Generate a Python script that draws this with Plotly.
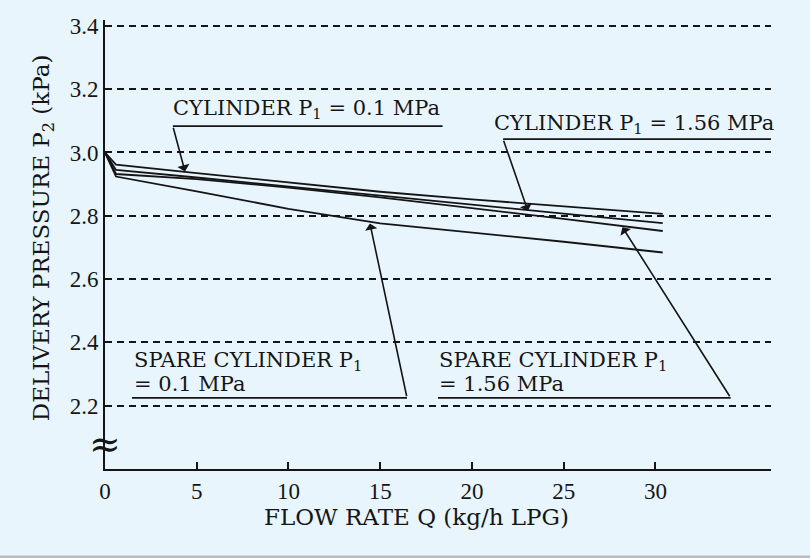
import plotly.graph_objects as go

# flow rate Q (kg/h LPG) and delivery pressure P2 (kPa)
flow_q = [0, 0.6, 5, 10, 15, 20, 25, 30.4]
cyl_01 = [3.0, 2.962, 2.935, 2.905, 2.876, 2.852, 2.829, 2.806]
cyl_156 = [3.0, 2.945, 2.921, 2.892, 2.863, 2.835, 2.807, 2.777]
spare_156 = [3.0, 2.932, 2.916, 2.889, 2.858, 2.825, 2.790, 2.752]
spare_01 = [3.0, 2.924, 2.877, 2.822, 2.776, 2.748, 2.718, 2.684]

x_ticks = [0, 5, 10, 15, 20, 25, 30]
y_ticks = [2.2, 2.4, 2.6, 2.8, 3.0, 3.2, 3.4]

BG = "#e9f5fd"
INK = "#151515"
SERIF = "DejaVu Serif"
TICKFONT = "Liberation Serif"

fig = go.Figure()
for ys in [cyl_01, cyl_156, spare_156, spare_01]:
    fig.add_trace(go.Scatter(x=flow_q, y=ys, mode="lines",
                             line=dict(color=INK, width=1.8),
                             showlegend=False, hoverinfo="skip"))

# labels: (text lines, left x, y of each line, underline x0, x1, y, arrow from, arrow to)
labels = [
    (["CYLINDER P<sub>1</sub> = 0.1 MPa"], 3.6, [3.137], 3.7, 18.4, 3.083,
     (3.7, 3.083), (4.36, 2.94)),
    (["CYLINDER P<sub>1</sub> = 1.56 MPa"], 21.1, [3.089], 21.7, 36.3, 3.042,
     (21.7, 3.042), (23.05, 2.815)),
    (["SPARE CYLINDER P<sub>1</sub>", "= 0.1 MPa"], 1.45, [2.342, 2.27], 1.47, 16.46, 2.225,
     (16.46, 2.225), (14.44, 2.776)),
    (["SPARE CYLINDER P<sub>1</sub>", "= 1.56 MPa"], 18.1, [2.342, 2.27], 18.15, 34.1, 2.225,
     (34.1, 2.225), (28.2, 2.764)),
]

for lines, tx, tys, ux0, ux1, uy, a_from, a_to in labels:
    for txt, ty in zip(lines, tys):
        fig.add_annotation(x=tx, y=ty, text=txt, showarrow=False,
                           xanchor="left", yanchor="middle",
                           font=dict(family=SERIF, size=21, color=INK))
    fig.add_shape(type="line", x0=ux0, x1=ux1, y0=uy, y1=uy,
                  line=dict(color=INK, width=1.8))
    fig.add_annotation(x=a_to[0], y=a_to[1], ax=a_from[0], ay=a_from[1],
                       axref="x", ayref="y", text="", showarrow=True,
                       arrowhead=1, arrowsize=1.3, arrowwidth=1.6, arrowcolor=INK)

# axis break mark
fig.add_annotation(x=0, y=2.078, text="≈", showarrow=False,
                   font=dict(family=SERIF, size=38, color=INK))

# axis titles
fig.add_annotation(x=0.467, y=-0.107, xref="paper", yref="paper",
                   xanchor="center", yanchor="middle",
                   text="FLOW RATE Q (kg/h LPG)", showarrow=False,
                   font=dict(family=SERIF, size=23, color=INK))
fig.add_annotation(x=-0.093, y=0.514, xref="paper", yref="paper", textangle=-90,
                   xanchor="center", yanchor="middle",
                   text="DELIVERY PRESSURE P<sub>2</sub> (kPa)", showarrow=False,
                   font=dict(family=SERIF, size=23, color=INK))

# grey strip at the bottom edge
fig.add_shape(type="rect", xref="paper", yref="paper", x0=-0.16, x1=1.06,
              y0=-0.199, y1=-0.1925, fillcolor="#b9bdc1", line_width=0)

fig.update_xaxes(range=[0, 36.3], tickvals=x_ticks, ticks="inside", ticklen=7,
                 tickwidth=1.5, tickcolor=INK, showline=True, linewidth=2,
                 linecolor=INK, showgrid=False, zeroline=False,
                 tickfont=dict(family=TICKFONT, size=23, color=INK))
fig.update_yaxes(range=[2.0, 3.4186], tickvals=y_ticks, tickformat=".1f",
                 ticks="inside", ticklen=7, tickwidth=1.5, tickcolor=INK,
                 showline=True, linewidth=2, linecolor=INK, zeroline=False,
                 showgrid=True, gridcolor=INK, gridwidth=1.5, griddash="7px,5px",
                 tickfont=dict(family=TICKFONT, size=23, color=INK))

fig.update_layout(width=810, height=558, margin=dict(l=105, r=39, t=20, b=89),
                  paper_bgcolor=BG, plot_bgcolor=BG, showlegend=False)

fig.write_html("out.html", config={"displayModeBar": False},
               post_script="document.body.style.margin='0';"
                           "document.body.style.background='#e9f5fd';")
